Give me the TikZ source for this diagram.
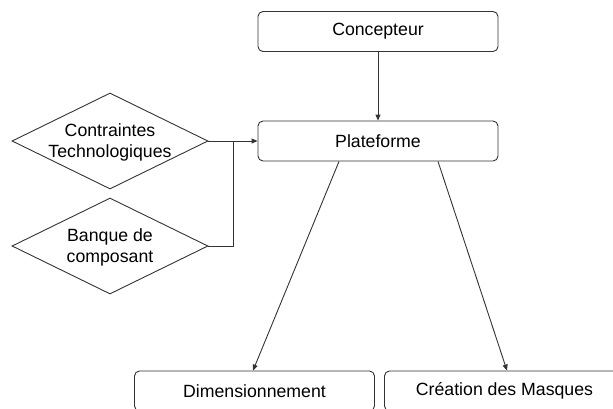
\documentclass[tikz,border=0pt]{standalone}
\usepackage{fontspec}
\setmainfont{Liberation Sans}
\usetikzlibrary{shapes.geometric,arrows.meta}
\tikzset{
  boite/.style={draw=black!80, rounded corners=5pt, minimum width=240pt, minimum height=40pt, inner sep=0pt},
  choix/.style={draw=black!80, diamond, minimum width=196pt, minimum height=96pt, inner sep=0pt},
  fleche/.style={draw=black!80, -{Triangle[length=6pt,width=5pt]}}
}
\begin{document}
\begin{tikzpicture}[x=1pt, y=-1pt, line width=0.9pt, font=\fontsize{17.7}{20.5}\selectfont]
        \useasboundingbox (0,0) rectangle (613,408);
        \node[boite] (concepteur) at (378,31.5) {Concepteur};
        \node[boite] (plateforme) at (378,141) {Plateforme};
        \foreach \nom/\xo/\lab in {dimension/254.5/Dimensionnement, creation/504.5/{Création des Masques}} {
          \node[boite] (\nom) at (\xo,391) {\lab};
        }
        \foreach \nom/\yo/\lab in {contraintes/141/{Contraintes\\Technologiques}, banque/246/{Banque de\\composant}} {
          \node[choix] (\nom) at (110,\yo) {};
          \node[align=center] (\nom-texte) at (110,\yo+1.5) {\lab};
        }
        \coordinate (jonction) at (233,141);
        \draw[fleche] (concepteur) -- (plateforme);
        \draw[fleche] (contraintes.east) -- (plateforme.west);
        \draw[draw=black!80] (banque.east) -| (jonction);
        \draw[fleche] ([xshift=-39pt]plateforme.south) -- ([xshift=-1.5pt]dimension.north);
        \draw[fleche] ([xshift=60pt]plateforme.south) -- ([xshift=2.5pt]creation.north);
      \end{tikzpicture}
\end{document}
